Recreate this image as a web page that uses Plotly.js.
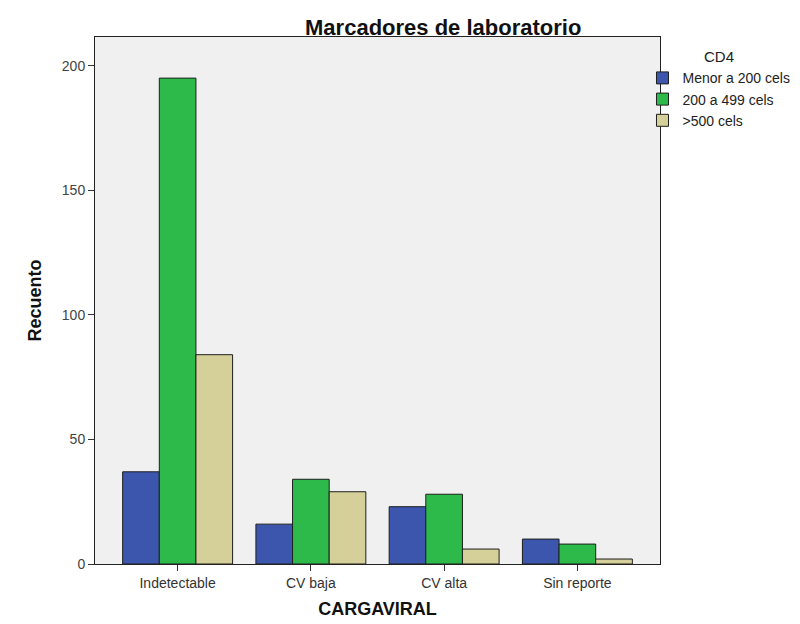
<!DOCTYPE html>
<html>
<head>
<meta charset="utf-8">
<script src="https://cdn.plot.ly/plotly-3.0.1.min.js"></script>
<style>
  html, body { margin: 0; padding: 0; background: #ffffff; }
  #chart { width: 800px; height: 624px; }
</style>
</head>
<body>
<div id="chart"></div>
<script>
// Recuento por carga viral, agrupado por nivel de CD4
const categorias = ["Indetectable", "CV baja", "CV alta", "Sin reporte"];
const menor200 = [37, 16, 23, 10];
const entre200y499 = [195, 34, 28, 8];
const mayor500 = [84, 29, 6, 2];
const nombresSeries = ["Menor a 200 cels", "200 a 499 cels", ">500 cels"];
const coloresSeries = ["#3d56ad", "#2dba4b", "#d5d09a"];
const valoresY = [0, 50, 100, 150, 200];

const FONT = "Arial, 'Liberation Sans', sans-serif";

const series = [menor200, entre200y499, mayor500];
const data = series.map((vals, i) => ({
  type: "bar",
  x: categorias,
  y: vals,
  name: nombresSeries[i],
  marker: { color: coloresSeries[i], line: { color: "#1e1e1e", width: 1 } },
  hoverinfo: "x+y+name"
}));

const layout = {
  width: 800,
  height: 624,
  paper_bgcolor: "#ffffff",
  plot_bgcolor: "#f0f0f0",
  margin: { l: 95, r: 140, t: 37, b: 60, autoexpand: false },
  barmode: "group",
  bargap: 0.175,
  bargroupgap: 0,
  font: { family: FONT, color: "#333333" },
  title: {
    text: "<b>Marcadores de laboratorio</b>",
    font: { family: FONT, size: 22, color: "#111111" },
    xref: "container", yref: "container",
    x: 0.554, xanchor: "center",
    y: 1 - 27 / 624, yanchor: "middle"
  },
  xaxis: {
    type: "category",
    range: [-0.62, 3.62],
    showline: true, linecolor: "#222222", linewidth: 1, mirror: true,
    ticks: "outside", ticklen: 6, tickcolor: "#333333",
    tickfont: { family: FONT, size: 14, color: "#333333" },
    showgrid: false, zeroline: false,
    title: {
      text: "<b>CARGAVIRAL</b>",
      font: { family: FONT, size: 18, color: "#111111" },
      standoff: 12
    }
  },
  yaxis: {
    range: [0, 211.5],
    tickvals: valoresY,
    showline: true, linecolor: "#222222", linewidth: 1, mirror: true,
    ticks: "outside", ticklen: 6, tickcolor: "#333333",
    tickfont: { family: FONT, size: 14, color: "#444444" },
    showgrid: false, zeroline: false,
    title: {
      text: "<b>Recuento</b>",
      font: { family: FONT, size: 18, color: "#111111" },
      standoff: 15
    }
  },
  legend: {
    x: 0.969, xanchor: "left",
    y: 0.989, yanchor: "top",
    bgcolor: "rgba(0,0,0,0)",
    font: { family: FONT, size: 14, color: "#222222" },
    itemwidth: 30,
    title: { text: "CD4", side: "top center", font: { family: FONT, size: 15, color: "#222222" } }
  },
  showlegend: true
};

Plotly.newPlot("chart", data, layout, { displayModeBar: false, staticPlot: true });
</script>
</body>
</html>
